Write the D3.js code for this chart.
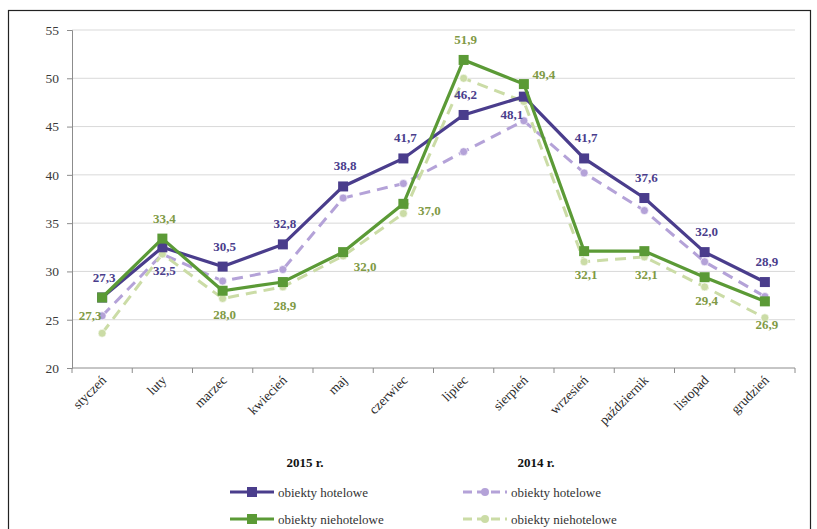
<!DOCTYPE html>
<html>
<head>
<meta charset="utf-8">
<script src="https://cdn.jsdelivr.net/npm/d3@7"></script>
<style>
  html, body { margin: 0; padding: 0; background: #fff; }
  svg { display: block; font-family: "Liberation Serif", "DejaVu Serif", serif; }
</style>
</head>
<body>
<svg id="chart" width="817" height="529"></svg>
<script>
// Miesiące
const months = ["styczeń", "luty", "marzec", "kwiecień", "maj", "czerwiec",
                "lipiec", "sierpień", "wrzesień", "październik", "listopad", "grudzień"];

// 2015 r.
const hotel2015 = [27.3, 32.5, 30.5, 32.8, 38.8, 41.7, 46.2, 48.1, 41.7, 37.6, 32.0, 28.9];
const nonHotel2015 = [27.3, 33.4, 28.0, 28.9, 32.0, 37.0, 51.9, 49.4, 32.1, 32.1, 29.4, 26.9];

// 2014 r.
const hotel2014 = [25.4, 31.8, 29.0, 30.2, 37.6, 39.1, 42.4, 45.6, 40.2, 36.3, 31.0, 27.4];
const nonHotel2014 = [23.6, 31.8, 27.2, 28.4, 31.6, 36.0, 50.0, 47.6, 31.0, 31.5, 28.4, 25.2];

const yTicks = [20, 25, 30, 35, 40, 45, 50, 55];

// where each 2015 value label sits relative to its point
const hotelLabelPos = ["above", "below", "above", "above", "above", "above",
                       "above", "belowLeft", "above", "above", "above", "above"];
const nonHotelLabelPos = ["belowLeft", "above", "below", "below", "belowRight", "right",
                          "above", "aboveRight", "below", "below", "below", "below"];

const svg = d3.select("#chart");
const plotLeft = 72, plotRight = 795;

const x = d3.scaleBand().domain(months).range([plotLeft, plotRight]).paddingInner(0).paddingOuter(0);
const y = d3.scaleLinear().domain([20, 55]).range([368, 30]);
const cx = d => x(d) + x.bandwidth() / 2;

// frame
svg.append("rect").attr("x", 8.5).attr("y", 10.5).attr("width", 802).attr("height", 530)
  .attr("fill", "#fff").attr("stroke", "#222").attr("stroke-width", 1.2);

// gridlines
svg.append("g").selectAll("line").data(yTicks.slice(1)).join("line")
  .attr("x1", plotLeft).attr("x2", plotRight)
  .attr("y1", d => y(d)).attr("y2", d => y(d))
  .attr("stroke", "#d9d9d9").attr("stroke-width", 1);

// y axis
const yAxis = svg.append("g").attr("transform", `translate(${plotLeft},0)`)
  .call(d3.axisLeft(y).tickValues(yTicks).tickSize(5).tickPadding(8).tickFormat(d3.format("d")));
yAxis.select(".domain").attr("stroke", "#8c8c8c");
yAxis.selectAll(".tick line").attr("stroke", "#8c8c8c");
yAxis.selectAll("text").attr("font-size", 13.5).attr("fill", "#3a3a3a")
  .attr("font-family", "Liberation Serif, serif");

// x axis
const xAxisG = svg.append("g").attr("transform", `translate(0,${y(20)})`);
xAxisG.append("line").attr("x1", plotLeft).attr("x2", plotRight).attr("stroke", "#8c8c8c");
const boundaries = months.map(m => x(m)).concat([plotRight]);
xAxisG.selectAll("line.tk").data(boundaries).join("line").attr("class", "tk")
  .attr("x1", d => d).attr("x2", d => d).attr("y1", 0).attr("y2", 5)
  .attr("stroke", "#8c8c8c");
xAxisG.selectAll("text").data(months).join("text")
  .attr("transform", d => `translate(${cx(d) + 5},${13}) rotate(-45)`)
  .attr("text-anchor", "end")
  .attr("font-size", 13.5).attr("fill", "#2a2a2a")
  .text(d => d);

const colors = {
  hotel2015: "#4a3d8c",
  nonHotel2015: "#5b9a36",
  hotel2014: "#b4a2d8",
  nonHotel2014: "#cbdca6",
  hotelLabel: "#4a3d8c",
  nonHotelLabel: "#7f9a45"
};

const line = d3.line().x((d, i) => cx(months[i])).y(d => y(d));

function drawDashed(values, color) {
  svg.append("path").datum(values).attr("d", line)
    .attr("fill", "none").attr("stroke", color).attr("stroke-width", 3)
    .attr("stroke-dasharray", "11,7");
  svg.append("g").selectAll("circle").data(values).join("circle")
    .attr("cx", (d, i) => cx(months[i])).attr("cy", d => y(d)).attr("r", 4)
    .attr("fill", color).attr("stroke", "#fff").attr("stroke-width", 0.6);
}

function drawSolid(values, color) {
  svg.append("path").datum(values).attr("d", line)
    .attr("fill", "none").attr("stroke", color).attr("stroke-width", 3.2);
  svg.append("g").selectAll("rect").data(values).join("rect")
    .attr("x", (d, i) => cx(months[i]) - 5).attr("y", d => y(d) - 5)
    .attr("width", 10).attr("height", 10).attr("fill", color);
}

drawDashed(hotel2014, colors.hotel2014);
drawDashed(nonHotel2014, colors.nonHotel2014);
drawSolid(hotel2015, colors.hotel2015);
drawSolid(nonHotel2015, colors.nonHotel2015);

const fmt = v => v.toFixed(1).replace(".", ",");
const offsets = {
  above: [2, -16],
  below: [2, 28],
  belowLeft: [-12, 22],
  belowRight: [22, 19],
  right: [26, 11],
  aboveRight: [20, -5]
};

function drawLabels(values, pos, color) {
  svg.append("g").selectAll("text").data(values).join("text")
    .attr("x", (d, i) => cx(months[i]) + offsets[pos[i]][0])
    .attr("y", (d, i) => y(d) + offsets[pos[i]][1])
    .attr("text-anchor", "middle")
    .attr("font-size", 13).attr("font-weight", "bold").attr("fill", color)
    .text(d => fmt(d));
}
drawLabels(hotel2015, hotelLabelPos, colors.hotelLabel);
drawLabels(nonHotel2015, nonHotelLabelPos, colors.nonHotelLabel);

// legend
const legend = svg.append("g");
legend.append("text").attr("x", 305).attr("y", 467).attr("text-anchor", "middle")
  .attr("font-size", 13).attr("font-weight", "bold").attr("fill", "#111").text("2015 r.");
legend.append("text").attr("x", 536).attr("y", 467).attr("text-anchor", "middle")
  .attr("font-size", 13).attr("font-weight", "bold").attr("fill", "#111").text("2014 r.");

const legendItems = [
  { label: "obiekty hotelowe", color: colors.hotel2015, dashed: false, x: 230, y: 492 },
  { label: "obiekty niehotelowe", color: colors.nonHotel2015, dashed: false, x: 230, y: 519 },
  { label: "obiekty hotelowe", color: colors.hotel2014, dashed: true, x: 463, y: 492 },
  { label: "obiekty niehotelowe", color: colors.nonHotel2014, dashed: true, x: 463, y: 519 }
];
legendItems.forEach(it => {
  const g = legend.append("g");
  g.append("line").attr("x1", it.x).attr("x2", it.x + 44).attr("y1", it.y).attr("y2", it.y)
    .attr("stroke", it.color).attr("stroke-width", 3.2)
    .attr("stroke-dasharray", it.dashed ? "9,5" : null);
  if (it.dashed) {
    g.append("circle").attr("cx", it.x + 22).attr("cy", it.y).attr("r", 4).attr("fill", it.color);
  } else {
    g.append("rect").attr("x", it.x + 17).attr("y", it.y - 5).attr("width", 10).attr("height", 10)
      .attr("fill", it.color);
  }
  g.append("text").attr("x", it.x + 48).attr("y", it.y + 4.5)
    .attr("font-size", 13).attr("fill", "#333").text(it.label);
});
</script>
</body>
</html>
